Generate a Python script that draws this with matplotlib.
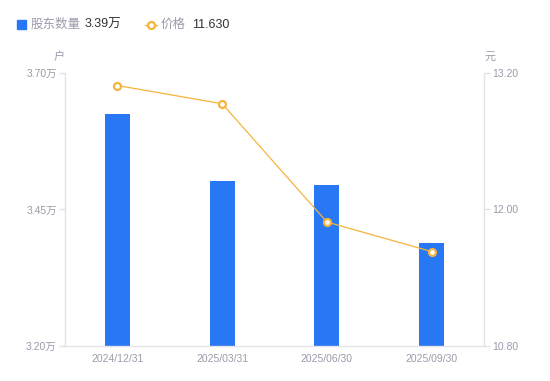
import matplotlib
matplotlib.use('Agg')
import matplotlib.pyplot as plt
from matplotlib.lines import Line2D
from matplotlib.patches import Rectangle

plt.rcParams['font.family'] = ['Liberation Sans', 'Noto Sans CJK SC', 'DejaVu Sans']

# data
dates = ['2024/12/31', '2025/03/31', '2025/06/30', '2025/09/30']
holders = [3.625, 3.502, 3.494, 3.389]   # 万户
price = [13.09, 12.93, 11.89, 11.63]     # 元
left_ticks = [3.20, 3.45, 3.70]
right_ticks = [10.80, 12.00, 13.20]

bar_color = '#2878F6'
line_color = '#F5B43C'
grey = '#9B9BAB'
axis_grey = '#E3E3E6'

W, H = 550, 381
fig = plt.figure(figsize=(W / 100, H / 100), dpi=100)
ax = fig.add_axes([65 / W, 1 - 346 / H, (484 - 65) / W, (346 - 73) / H])
ax2 = ax.twinx()

x = range(len(dates))
ax.bar(x, holders, width=0.24, color=bar_color, zorder=2)
ax.set_xlim(-0.5, len(dates) - 0.5)
ax.set_ylim(left_ticks[0], left_ticks[-1])
ax.set_yticks(left_ticks)
ax.set_yticklabels(['%.2f万' % v for v in left_ticks])
ax.set_xticks(list(x))
ax.set_xticklabels(dates)

ax2.plot(x, price, color=line_color, lw=0.9, marker='o', ms=5,
         mfc='white', mec=line_color, mew=1.6, zorder=3)
ax2.set_ylim(right_ticks[0], right_ticks[-1])
ax2.set_yticks(right_ticks)
ax2.set_yticklabels(['%.2f' % v for v in right_ticks])

for a in (ax, ax2):
    for s in a.spines.values():
        s.set_color(axis_grey)
        s.set_linewidth(1)
    a.spines['top'].set_visible(False)
    a.tick_params(colors=axis_grey, labelcolor=grey, labelsize=7.5, length=4, width=1)
ax.tick_params(axis='x', length=0, pad=6)
ax2.spines['left'].set_visible(False)
ax.spines['right'].set_visible(False)
ax2.spines['bottom'].set_visible(False)
ax.tick_params(axis='y', pad=2)
ax2.tick_params(axis='y', pad=2)

# unit labels
fig.text(59 / W, 1 - 57 / H, '户', color=grey, fontsize=8, ha='center', va='center')
fig.text(490 / W, 1 - 57 / H, '元', color=grey, fontsize=8, ha='center', va='center')

# legend
fig.patches.append(Rectangle((17 / W, 1 - 29 / H), 9 / W, 9 / H, transform=fig.transFigure,
                             color=bar_color, figure=fig))
fig.text(31 / W, 1 - 24.5 / H, '股东数量', color=grey, fontsize=9, va='center')
fig.text(85 / W, 1 - 24.5 / H, '%.2f万' % holders[-1], color='#333333', fontsize=9, va='center')
fig.lines.append(Line2D([145 / W, 157 / W], [1 - 24.5 / H, 1 - 24.5 / H], transform=fig.transFigure,
                        color=line_color, lw=1, figure=fig))
fig.lines.append(Line2D([151 / W], [1 - 24.5 / H], transform=fig.transFigure, color=line_color,
                        marker='o', ms=5, mfc='white', mec=line_color, mew=1.6, figure=fig))
fig.text(161 / W, 1 - 24.5 / H, '价格', color=grey, fontsize=9, va='center')
fig.text(192 / W, 1 - 24.5 / H, '%.3f' % price[-1], color='#333333', fontsize=9, va='center')

fig.savefig('out.png', dpi=100)
